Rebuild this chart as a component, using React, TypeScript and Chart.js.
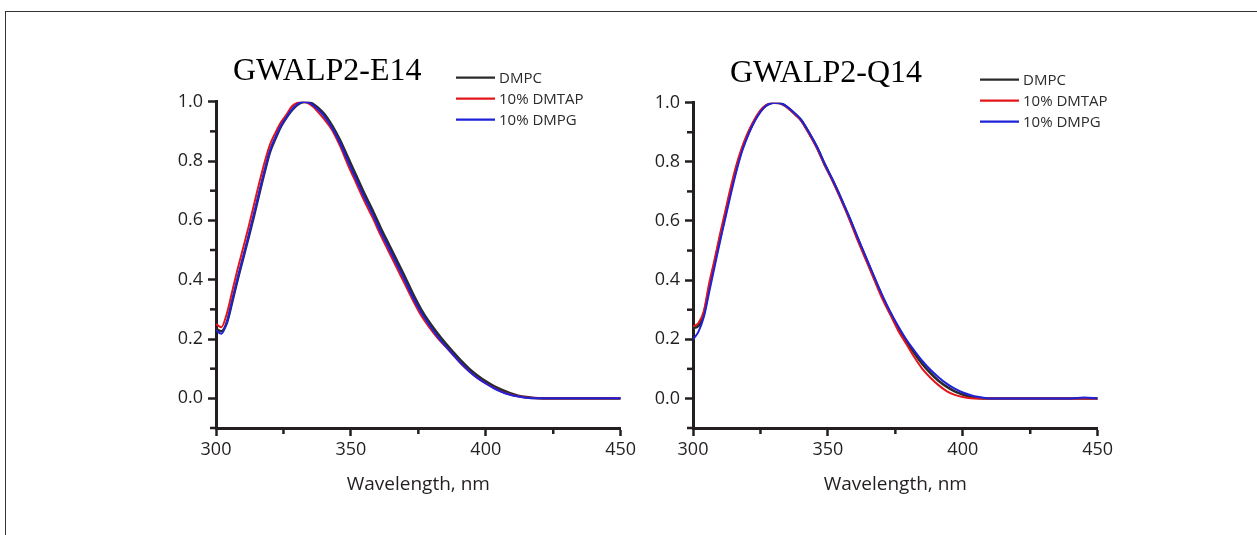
import React, { useEffect, useRef } from 'react';
import { Chart, registerables } from 'chart.js';

Chart.register(...registerables);

// ---------- data ----------
const wavelengths = [
  300, 302, 304, 306, 308, 310, 312, 314, 316, 318, 320, 322, 324, 326, 328, 330, 332, 334, 336, 338, 340,
  343, 346, 349, 352, 355, 358, 361, 364, 367, 370, 373, 376, 379, 382, 385, 388, 391, 394, 397, 400, 403,
  406, 409, 412, 415, 418, 421, 425, 430, 435, 440, 445, 450,
];

const e14Dmpc = [
  0.235, 0.226, 0.255, 0.325, 0.4, 0.47, 0.54, 0.612, 0.688, 0.762, 0.83, 0.875, 0.915, 0.945, 0.97, 0.988, 0.998, 1.0, 0.992, 0.978, 0.96,
  0.92, 0.87, 0.81, 0.75, 0.69, 0.635, 0.575, 0.52, 0.465, 0.41, 0.352, 0.3, 0.257, 0.22, 0.186, 0.155, 0.125, 0.098, 0.076, 0.057, 0.041,
  0.028, 0.017, 0.009, 0.004, 0.001, 0, 0, 0, 0, 0, 0, 0,
];
const e14Dmtap = [
  0.25, 0.24, 0.285, 0.36, 0.435, 0.505, 0.575, 0.65, 0.725, 0.795, 0.855, 0.895, 0.93, 0.955, 0.983, 0.996, 1.0, 0.995, 0.983, 0.963, 0.942,
  0.905, 0.85, 0.785, 0.725, 0.665, 0.61, 0.55, 0.495, 0.44, 0.385, 0.33, 0.28, 0.24, 0.205, 0.175, 0.145, 0.115, 0.09, 0.068, 0.05, 0.035,
  0.022, 0.013, 0.007, 0.003, 0.001, 0, 0, 0, 0, 0, 0, 0,
];
const e14Dmpg = [
  0.228, 0.218, 0.255, 0.33, 0.405, 0.475, 0.545, 0.62, 0.695, 0.768, 0.835, 0.88, 0.918, 0.946, 0.972, 0.99, 0.999, 0.998, 0.988, 0.972, 0.952,
  0.912, 0.86, 0.797, 0.737, 0.677, 0.622, 0.562, 0.507, 0.452, 0.397, 0.34, 0.29, 0.248, 0.21, 0.177, 0.146, 0.116, 0.09, 0.068, 0.05, 0.034,
  0.021, 0.012, 0.006, 0.002, 0, 0, 0, 0, 0, 0, 0, 0,
];

const q14Dmpc = [
  0.238, 0.245, 0.285, 0.375, 0.458, 0.542, 0.622, 0.702, 0.776, 0.838, 0.886, 0.926, 0.958, 0.982, 0.995, 1.0, 0.999, 0.991, 0.977, 0.96, 0.942,
  0.898, 0.848, 0.788, 0.733, 0.673, 0.609, 0.541, 0.476, 0.411, 0.348, 0.291, 0.24, 0.195, 0.154, 0.117, 0.086, 0.06, 0.04, 0.024, 0.013, 0.005,
  0.001, 0, 0, 0, 0, 0, 0, 0, 0, 0, 0, 0,
];
const q14Dmtap = [
  0.243, 0.255, 0.295, 0.39, 0.47, 0.555, 0.635, 0.715, 0.787, 0.845, 0.892, 0.93, 0.962, 0.984, 0.996, 1.0, 0.998, 0.99, 0.975, 0.958, 0.94,
  0.895, 0.845, 0.785, 0.73, 0.67, 0.605, 0.535, 0.47, 0.405, 0.34, 0.285, 0.23, 0.185, 0.14, 0.1, 0.07, 0.045, 0.025, 0.012, 0.005, 0.001,
  0, 0, 0, 0, 0, 0, 0, 0, 0, 0, 0, 0,
];
const q14Dmpg = [
  0.2, 0.225, 0.275, 0.36, 0.445, 0.53, 0.61, 0.69, 0.765, 0.83, 0.88, 0.922, 0.955, 0.98, 0.994, 1.0, 0.999, 0.992, 0.978, 0.962, 0.943,
  0.9, 0.85, 0.79, 0.735, 0.675, 0.612, 0.545, 0.48, 0.415, 0.352, 0.295, 0.245, 0.2, 0.162, 0.127, 0.097, 0.072, 0.05, 0.033, 0.02, 0.011,
  0.005, 0.001, 0, 0, 0, 0, 0, 0, 0, 0, 0.003, 0,
];

const seriesNames = ['DMPC', '10% DMTAP', '10% DMPG'];
const panelTitles = ['GWALP2-E14', 'GWALP2-Q14'];
const xAxisTitle = 'Wavelength, nm';

// ---------- styles ----------
const seriesColors = ['#2a2a2a', '#e3161c', '#1e22d8'];
const seriesWidths = [2.6, 2, 2];
const seriesOrder = [2, 1, 0]; // blue on top, black underneath
const inkColor = '#231f20';
const tickFont = { family: '"Open Sans", sans-serif', size: 18 };

const isMajorY = (v: number) => {
  const k = Math.round(v * 10);
  return k >= 0 && k % 2 === 0;
};
const isMajorX = (v: number) => Math.round(v) % 50 === 0;

const panelPlugin = {
  id: 'panelText',
  afterDraw(chart: any, _args: any, opts: any) {
    const ctx = chart.ctx as CanvasRenderingContext2D;
    const area = chart.chartArea;
    ctx.save();
    // minor ticks
    ctx.strokeStyle = inkColor;
    ctx.lineWidth = 2.5;
    const xs = chart.scales.x;
    xs.ticks.forEach((t: any) => {
      if (!isMajorX(t.value)) {
        const px = xs.getPixelForValue(t.value);
        ctx.beginPath();
        ctx.moveTo(px, area.bottom);
        ctx.lineTo(px, area.bottom + 6);
        ctx.stroke();
      }
    });
    const ys = chart.scales.y;
    ys.ticks.forEach((t: any) => {
      if (!isMajorY(t.value)) {
        const py = ys.getPixelForValue(t.value);
        ctx.beginPath();
        ctx.moveTo(area.left, py);
        ctx.lineTo(area.left - 6, py);
        ctx.stroke();
      }
    });
    // title
    ctx.fillStyle = '#000';
    ctx.font = '32px "Liberation Serif", "Times New Roman", serif';
    ctx.textAlign = 'left';
    ctx.textBaseline = 'alphabetic';
    ctx.fillText(opts.title, area.left + opts.titleDx, area.top + opts.titleDy);
    // legend
    ctx.font = '15px "Open Sans", sans-serif';
    ctx.textBaseline = 'middle';
    chart.data.datasets.forEach((ds: any, i: number) => {
      const y = area.top + opts.legendDy[i];
      const x0 = area.left + opts.legendDx;
      ctx.strokeStyle = ds.borderColor;
      ctx.lineWidth = 2.2;
      ctx.beginPath();
      ctx.moveTo(x0, y);
      ctx.lineTo(x0 + 39, y);
      ctx.stroke();
      ctx.fillStyle = '#2b2b2b';
      ctx.fillText(ds.label, x0 + 43, y + 1);
    });
    ctx.restore();
  },
};

type PanelProps = {
  series: number[][];
  title: string;
  left: number;
  top: number;
  padTop: number;
  titleDx: number;
  titleDy: number;
  legendDx: number;
  legendDy: number[];
};

function Panel(p: PanelProps) {
  const ref = useRef<HTMLCanvasElement>(null);
  useEffect(() => {
    const chart = new Chart(ref.current as HTMLCanvasElement, {
      type: 'line',
      data: {
        datasets: p.series.map((s, i) => ({
          label: seriesNames[i],
          data: wavelengths.map((x, j) => ({ x, y: s[j] })),
          borderColor: seriesColors[i],
          backgroundColor: seriesColors[i],
          borderWidth: seriesWidths[i],
          order: seriesOrder[i],
          pointRadius: 0,
          fill: false,
          cubicInterpolationMode: 'monotone' as const,
        })),
      },
      options: {
        responsive: false,
        maintainAspectRatio: false,
        animation: false,
        layout: { padding: { top: p.padTop, right: 39.3, left: 0, bottom: 0 } },
        plugins: {
          legend: { display: false },
          tooltip: { enabled: false },
          // @ts-ignore
          panelText: {
            title: p.title,
            titleDx: p.titleDx,
            titleDy: p.titleDy,
            legendDx: p.legendDx,
            legendDy: p.legendDy,
          },
        },
        scales: {
          x: {
            type: 'linear',
            min: 300,
            max: 450,
            afterFit: (s: any) => {
              s.height = 72;
            },
            ticks: {
              stepSize: 25,
              autoSkip: false,
              maxRotation: 0,
              padding: 3,
              color: inkColor,
              font: tickFont,
              callback: (v: any) => (isMajorX(Number(v)) ? String(Math.round(Number(v))) : ''),
            },
            grid: {
              drawOnChartArea: false,
              drawTicks: true,
              tickLength: 8,
              tickWidth: 2.5,
              tickColor: (c: any) => (c.tick && isMajorX(c.tick.value) ? inkColor : 'rgba(0,0,0,0)'),
            },
            border: { display: true, color: inkColor, width: 3 },
            title: {
              display: true,
              text: xAxisTitle,
              color: inkColor,
              font: { family: '"Open Sans", sans-serif', size: 19 },
              padding: { top: 0, bottom: 4 },
            },
          },
          y: {
            type: 'linear',
            min: -0.1,
            max: 1.0,
            afterFit: (s: any) => {
              s.width = 76;
            },
            ticks: {
              stepSize: 0.1,
              autoSkip: false,
              padding: 5,
              color: inkColor,
              font: tickFont,
              callback: (v: any) => (isMajorY(Number(v)) ? (Math.round(Number(v) * 10) / 10).toFixed(1) : ''),
            },
            grid: {
              drawOnChartArea: false,
              drawTicks: true,
              tickLength: 8,
              tickWidth: 2.5,
              tickColor: (c: any) => (c.tick && isMajorY(c.tick.value) ? inkColor : 'rgba(0,0,0,0)'),
            },
            border: { display: true, color: inkColor, width: 3 },
          },
        },
      },
      plugins: [panelPlugin],
    } as any);
    return () => chart.destroy();
  }, []);
  return (
    <canvas
      ref={ref}
      width={520}
      height={470}
      style={{ position: 'absolute', left: p.left, top: p.top, width: 520, height: 470 }}
    />
  );
}

export default function App() {
  return (
    <div
      style={{
        position: 'absolute',
        left: 0,
        top: 0,
        width: 1257,
        height: 535,
        background: '#fff',
        overflow: 'hidden',
      }}
    >
      <div
        style={{
          position: 'absolute',
          left: 5,
          top: 11,
          width: 1400,
          height: 700,
          borderLeft: '1.5px solid #333',
          borderTop: '1.5px solid #333',
        }}
      />
      <Panel
        series={[e14Dmpc, e14Dmtap, e14Dmpg]}
        title={panelTitles[0]}
        left={140}
        top={30}
        padTop={71.7}
        titleDx={17}
        titleDy={-21.7}
        legendDx={240}
        legendDy={[-24, -3, 18]}
      />
      <Panel
        series={[q14Dmpc, q14Dmtap, q14Dmpg]}
        title={panelTitles[1]}
        left={617}
        top={30}
        padTop={72.7}
        titleDx={37}
        titleDy={-20.7}
        legendDx={287}
        legendDy={[-23, -2, 19]}
      />
    </div>
  );
}
